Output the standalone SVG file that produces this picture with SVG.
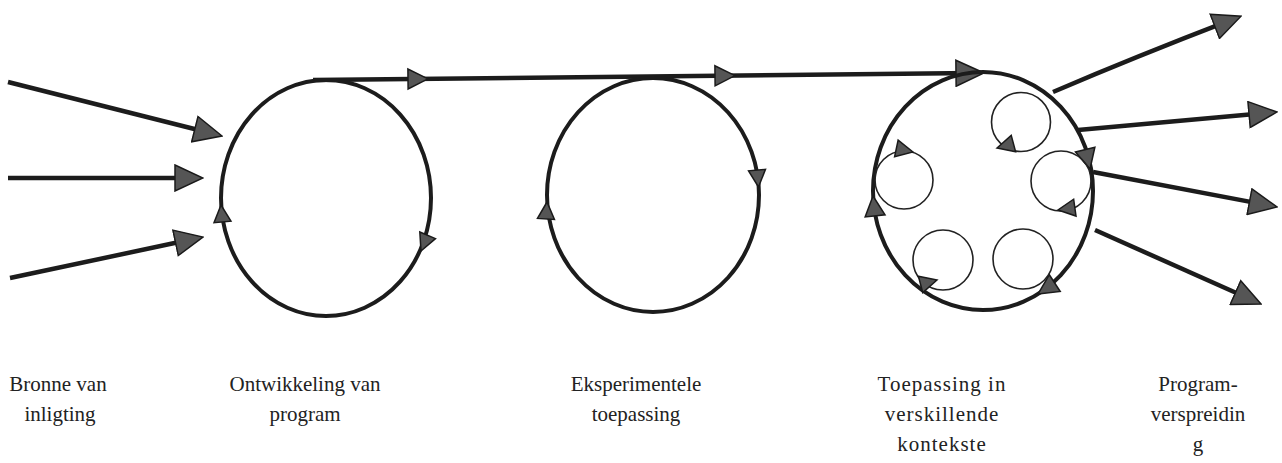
<svg xmlns="http://www.w3.org/2000/svg" xmlns:xlink="http://www.w3.org/1999/xlink" width="1282" height="463" viewBox="0 0 1282 463">
<style>
.thick{fill:none;stroke:#1c1c1c;stroke-width:4.5;stroke-linecap:butt}
.ring{fill:none;stroke:#1c1c1c;stroke-width:4}
.small{fill:none;stroke:#222;stroke-width:1.6}
.head{fill:#555;stroke:#1a1a1a;stroke-width:1.5;stroke-linejoin:miter}
.lbl{font-family:"Liberation Serif","Times New Roman",serif;font-size:21px;fill:#222;text-anchor:middle}
.wide{letter-spacing:1px}
</style>
<defs>
<marker id="big" markerUnits="userSpaceOnUse" viewBox="0 0 30 28" markerWidth="30" markerHeight="28" refX="18" refY="14" orient="auto">
<path class="head" d="M1,1 L29,14 L1,27 Z"/>
</marker>
<path id="mid" class="head" d="M0,0 L-20,-10 L-20,10 Z"/>
<path id="tiny" class="head" d="M0,0 L-17,-8.5 L-17,8.5 Z"/>
</defs>

<g id="connectors">
<line class="thick" x1="8" y1="82" x2="211.3" y2="133.3" marker-end="url(#big)"/>
<line class="thick" x1="8" y1="178" x2="192" y2="178" marker-end="url(#big)"/>
<line class="thick" x1="10" y1="278" x2="192.2" y2="239.3" marker-end="url(#big)"/>
<path class="thick" d="M313,80 L973,73.1" marker-end="url(#big)"/>
<use xlink:href="#mid" transform="translate(428,78.8) rotate(-0.6)"/>
<use xlink:href="#mid" transform="translate(735,75.6) rotate(-0.6)"/>
<path class="thick" d="M1053,92 Q1135,57 1230.7,20.2" marker-end="url(#big)"/>
<line class="thick" x1="1078" y1="130" x2="1266" y2="113" marker-end="url(#big)"/>
<line class="thick" x1="1093" y1="172" x2="1266.2" y2="204.9" marker-end="url(#big)"/>
<line class="thick" x1="1095" y1="230" x2="1251" y2="299.5" marker-end="url(#big)"/>
</g>

<g id="bronne">
<text class="lbl" x="58" y="391">Bronne van</text>
<text class="lbl" x="60" y="421">inligting</text>
</g>

<g id="ontwikkeling">
<ellipse class="ring" cx="326" cy="198" rx="105" ry="118"/>
<use xlink:href="#tiny" transform="translate(221,205) rotate(-95)"/>
<use xlink:href="#tiny" transform="translate(421,251) rotate(113)"/>
<text class="lbl" x="305" y="391">Ontwikkeling van</text>
<text class="lbl" x="305" y="421">program</text>
</g>

<g id="eksperimentele">
<ellipse class="ring" cx="653" cy="195" rx="106" ry="117"/>
<use xlink:href="#tiny" transform="translate(758.5,187) rotate(85)"/>
<use xlink:href="#tiny" transform="translate(547,202) rotate(-86.5)"/>
<text class="lbl" x="636" y="391">Eksperimentele</text>
<text class="lbl" x="636" y="421">toepassing</text>
</g>

<g id="toepassing">
<ellipse class="ring" cx="983" cy="191" rx="110" ry="119"/>
<use xlink:href="#mid" transform="translate(1090,169) rotate(76)"/>
<use xlink:href="#mid" transform="translate(1038,294) rotate(147)"/>
<use xlink:href="#mid" transform="translate(873,196) rotate(-96)"/>
<circle class="small" cx="1021" cy="122" r="29.5"/>
<use xlink:href="#tiny" transform="translate(997,148) rotate(165)"/>
<circle class="small" cx="1061" cy="181" r="30"/>
<use xlink:href="#tiny" transform="translate(1058,210) rotate(172)"/>
<circle class="small" cx="904" cy="180" r="29"/>
<use xlink:href="#tiny" transform="translate(913,152) rotate(12)"/>
<circle class="small" cx="943" cy="260" r="30"/>
<use xlink:href="#tiny" transform="translate(937,280) rotate(-15)"/>
<circle class="small" cx="1023" cy="259" r="30"/>
<text class="lbl wide" x="942" y="391">Toepassing in</text>
<text class="lbl wide" x="942" y="421">verskillende</text>
<text class="lbl wide" x="942" y="451">kontekste</text>
</g>

<g id="verspreiding">
<text class="lbl" x="1198" y="391">Program-</text>
<text class="lbl" x="1198" y="421">verspreidin</text>
<text class="lbl" x="1198" y="451">g</text>
</g>
</svg>
